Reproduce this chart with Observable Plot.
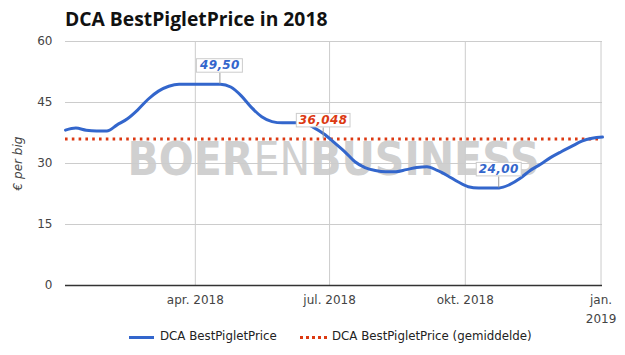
<!DOCTYPE html>
<html><head><meta charset="utf-8">
<script src="https://cdn.jsdelivr.net/npm/d3@7"></script>
<script src="https://cdn.jsdelivr.net/npm/@observablehq/plot@0.6"></script>
<style>
body{margin:0;background:#fff;width:625px;height:355px;position:relative;overflow:hidden;font-family:"DejaVu Sans",sans-serif}
#title{position:absolute;left:65px;top:5px;font-family:"Open Sans";font-weight:700;font-size:19.3px;color:#111;white-space:nowrap}
#chart{position:absolute;left:0;top:26px}
#legend{position:absolute;left:0;top:327px;width:625px;height:20px;font-size:11.8px;color:#222}
.sw{position:absolute;top:9px;height:0}
.lt{position:absolute;top:2px;white-space:nowrap}
[aria-label="y-axis label"] text,[aria-label="y-axis label"]{font-style:italic}
</style></head><body>
<div id="title">DCA BestPigletPrice in 2018</div>
<div id="chart"></div>
<div id="legend">
  <div class="sw" style="left:129px;width:25px;border-top:3px solid #3366cc"></div>
  <div class="lt" style="left:160px">DCA BestPigletPrice</div>
  <div class="sw" style="left:300px;width:27px;border-top:3px dotted #dc3912"></div>
  <div class="lt" style="left:332px">DCA BestPigletPrice (gemiddelde)</div>
</div>
<script>
const seriesName = "DCA BestPigletPrice";
const firstWeek = new Date(Date.UTC(2018, 0, 3));
const weeklyPrice = [38.2, 38.7, 38.2, 38.0, 38.0, 39.5, 41.0, 43.2, 45.8, 47.8,
  49.0, 49.5, 49.5, 49.5, 49.5, 49.5, 48.8, 46.7, 43.8, 41.5,
  40.3, 40.0, 40.0, 40.0, 38.9, 37.3, 35.2, 33.0, 30.5, 29.0,
  28.3, 28.0, 28.0, 28.5, 29.0, 29.2, 28.3, 27.0, 25.5, 24.3,
  24.0, 24.0, 24.0, 24.8, 26.3, 28.3, 29.8, 31.5, 32.9, 34.2,
  35.5, 36.2, 36.5];
const averagePrice = 36.048;
const xTickDates = [new Date(Date.UTC(2018,3,1)), new Date(Date.UTC(2018,6,1)), new Date(Date.UTC(2018,9,1)), new Date(Date.UTC(2019,0,1))];
const xTickLabels = ["apr. 2018", "jul. 2018", "okt. 2018", "jan.\n2019"];
const yTicks = [0, 15, 30, 45, 60];
const yLabel = "€ per big";
const annotationWeeks = [15, 25, 42];
const annotationLabels = ["49,50", "36,048", "24,00"];
const annotationIsAverage = [false, true, false];

const data = weeklyPrice.map((v, i) => ({date: d3.utcDay.offset(firstWeek, 7 * i), price: v}));
const annotations = annotationWeeks.map((w, i) => ({
  date: data[w].date,
  value: annotationIsAverage[i] ? averagePrice : data[w].price,
  label: annotationLabels[i],
  color: annotationIsAverage[i] ? "#dc3912" : "#3366cc"
}));

const chart = Plot.plot({
  width: 625, height: 301,
  marginLeft: 65, marginRight: 23, marginTop: 15, marginBottom: 42,
  style: {fontFamily: "DejaVu Sans", fontSize: "12px", color: "#444", background: "transparent", overflow: "visible"},
  x: {type: "utc", domain: d3.extent(data, d => d.date)},
  y: {domain: [0, 60]},
  marks: [
    Plot.gridY(yTicks.filter(t => t > 0), {stroke: "#cccccc", strokeOpacity: 1}),
    Plot.gridX(xTickDates, {stroke: "#cccccc", strokeOpacity: 1}),
    Plot.ruleY([0], {stroke: "#333", strokeWidth: 1.5}),
    Plot.axisY(yTicks, {tickSize: 0, tickPadding: 13, fontSize: 12, fill: "#444", label: yLabel, labelAnchor: "center", labelOffset: 52, labelArrow: "none"}),
    Plot.axisX(xTickDates, {tickSize: 0, tickPadding: 5, fontSize: 12, fill: "#444", lineHeight: 1.6, label: null,
      tickFormat: d => xTickLabels[xTickDates.findIndex(t => +t === +d)]}),
    Plot.ruleY([averagePrice], {stroke: "#dc3912", strokeWidth: 3, strokeDasharray: "2.6,4.2"}),
    Plot.line(data, {x: "date", y: "price", stroke: "#3366cc", strokeWidth: 3, curve: "monotone-x"})
  ]
});
document.getElementById("chart").appendChild(chart);

const xs = chart.scale("x"), ys = chart.scale("y");
const svg = d3.select(chart);
// watermark behind everything
const cx = (xs.range[0] + xs.range[1]) / 2;
const wm = svg.insert("text", ":first-child")
  .attr("x", cx).attr("y", ys.apply(27))
  .attr("text-anchor", "middle")
  .attr("fill", "#d0d0d0")
  .attr("font-family", "DejaVu Sans")
  .attr("font-size", 46)
  .attr("textLength", 412).attr("lengthAdjust", "spacingAndGlyphs");
wm.append("tspan").attr("font-weight", "bold").text("BOER");
wm.append("tspan").attr("font-weight", "normal").text("EN");
wm.append("tspan").attr("font-weight", "bold").text("BUSINESS");

const g = svg.append("g");
annotations.forEach(a => {
  const px = xs.apply(a.date), py = ys.apply(a.value);
  g.append("line").attr("x1", px).attr("x2", px).attr("y1", py).attr("y2", py - 11)
    .attr("stroke", "#999").attr("stroke-width", 1);
  const rect = g.append("rect");
  const t = g.append("text").attr("x", px).attr("y", py - 14.5)
    .attr("text-anchor", "middle").attr("font-family", "DejaVu Sans")
    .attr("font-weight", "bold").attr("font-style", "italic").attr("font-size", 12)
    .attr("letter-spacing", 0.4)
    .attr("fill", a.color).text(a.label);
  const bb = t.node().getBBox();
  rect.attr("x", bb.x - 2.5).attr("y", bb.y + 0.5).attr("width", bb.width + 5).attr("height", bb.height - 0.5)
    .attr("fill", "#fff").attr("stroke", "#ccc").attr("stroke-width", 1);
});
</script>
</body></html>
